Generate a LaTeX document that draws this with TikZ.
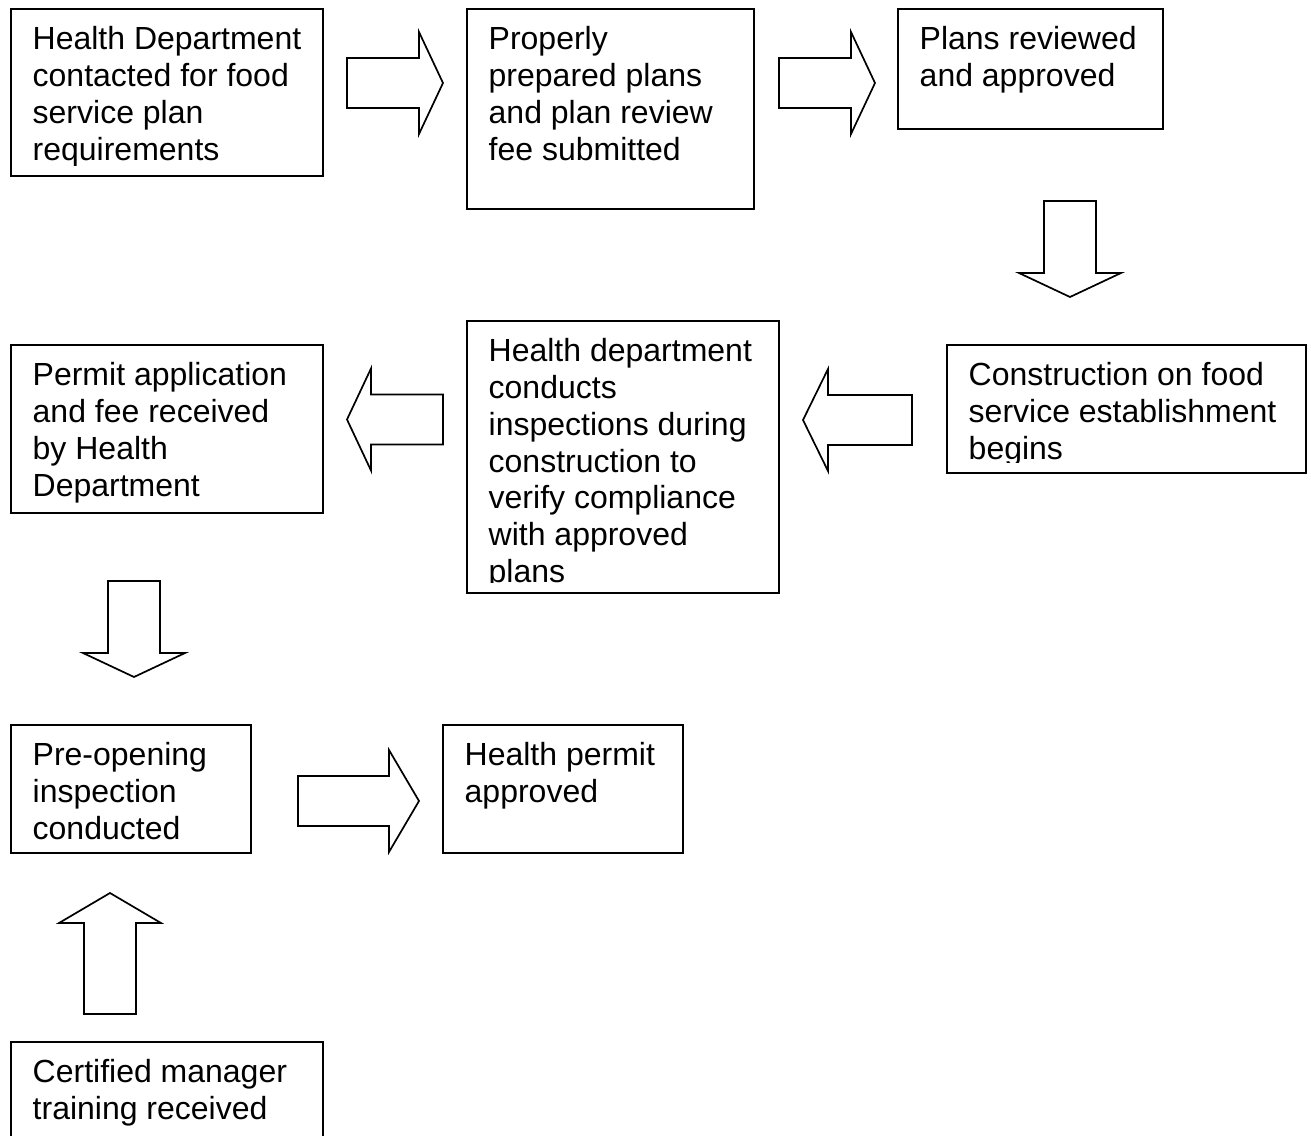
\documentclass[tikz,border=0pt]{standalone}
\usepackage{fontspec}
\setmainfont{Liberation Sans}
\tikzset{
  boxst/.style={draw=black, line width=2.2pt, fill=white, inner sep=0pt, outer sep=0pt, anchor=north west},
  txt/.style={inner sep=0pt, anchor=north west, align=left, font=\fontsize{32}{36.8}\selectfont},
  barrow/.style={draw=black, line width=1.7pt, fill=white, line join=miter},
}
% name, x1, y1, x2, y2, text
\newcommand\FlowBox[6]{%
  \node[boxst, minimum width={#4-#2}, minimum height={#5-#3}] (#1) at (#2,#3) {};
  \begin{scope}
    \clip ({#2},{#3}) rectangle ({#4},{#5-11});
    \node[txt] (#1-text) at ({#2+21.5},{#3+15.5}) {\rule{0pt}{25pt}#6};
  \end{scope}}
% tail x, head base x, tip x, centre y
\newcommand\HBlockArrow[4]{%
  \draw[barrow] ({#1},{#4-25}) -- ({#2},{#4-25}) -- ({#2},{#4-51}) -- ({#3},{#4})
    -- ({#2},{#4+51}) -- ({#2},{#4+25}) -- ({#1},{#4+25}) -- cycle;}
% tail y, head base y, tip y, centre x
\newcommand\VBlockArrow[4]{%
  \draw[barrow] ({#4-26},{#1}) -- ({#4-26},{#2}) -- ({#4-51},{#2}) -- ({#4},{#3})
    -- ({#4+51},{#2}) -- ({#4+26},{#2}) -- ({#4+26},{#1}) -- cycle;}
\begin{document}
\begin{tikzpicture}[x=1pt,y=-1pt]
\useasboundingbox (0,0) rectangle (1311,1135);
\clip (0,0) rectangle (1311,1135);

\FlowBox{b1}{11}{9}{323}{176}{Health Department\\contacted for food\\service plan\\requirements}
\FlowBox{b2}{467}{9}{754}{209}{Properly\\prepared plans\\and plan review\\fee submitted}
\FlowBox{b3}{898}{9}{1163}{129}{Plans reviewed\\and approved}
\FlowBox{b4}{947}{345}{1306}{473}{Construction on food\\service establishment\\begins}
\FlowBox{b5}{467}{321}{779}{593}{Health department\\conducts\\inspections during\\construction to\\verify compliance\\with approved\\plans}
\FlowBox{b6}{11}{345}{323}{513}{Permit application\\and fee received\\by Health\\Department}
\FlowBox{b7}{11}{725}{251}{853}{Pre-opening\\inspection\\conducted}
\FlowBox{b8}{443}{725}{683}{853}{Health permit\\approved}
\FlowBox{b9}{11}{1042}{323}{1170}{Certified manager\\training received}

\HBlockArrow{347}{419}{443}{83}
\HBlockArrow{779}{851}{875}{83}
\VBlockArrow{201}{273}{297}{1070}
\HBlockArrow{912}{828}{803}{420}
\HBlockArrow{443}{371}{347}{419.5}
\VBlockArrow{581}{653}{677}{134}
\HBlockArrow{298}{389}{419}{801}
\VBlockArrow{1014}{923}{893}{110}
\end{tikzpicture}
\end{document}
